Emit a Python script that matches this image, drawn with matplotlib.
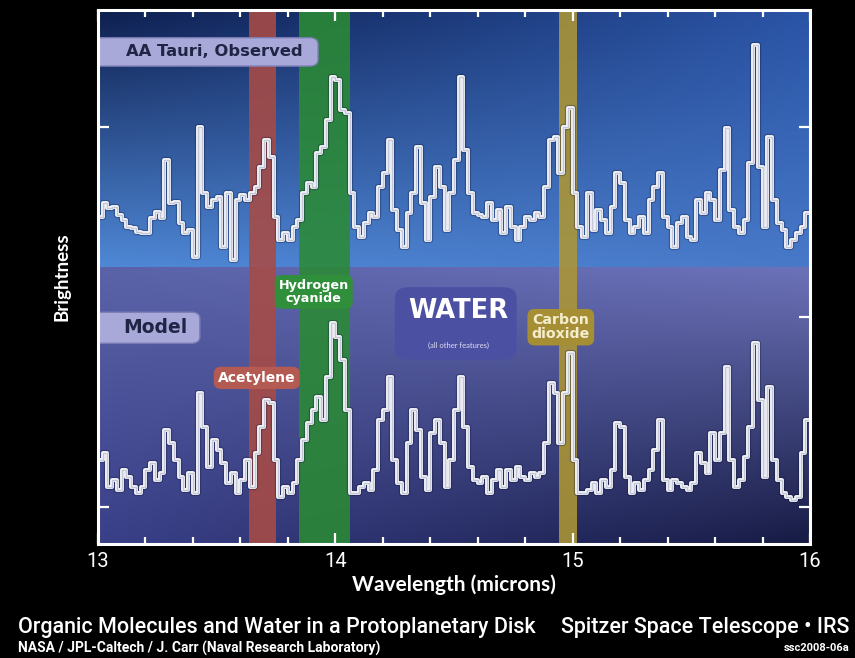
import numpy as np
import matplotlib
matplotlib.use('Agg')
import matplotlib.pyplot as plt
from matplotlib.patches import FancyBboxPatch
from matplotlib.ticker import MultipleLocator
from matplotlib.colors import to_rgb

# spectra, 150 bins of 0.02 micron from 13.00 to 16.00 (brightness, arbitrary units)
WL_START, WL_STEP = 13.01, 0.02
observed = [290, 304, 299, 300, 292, 287, 280, 279, 275, 274,
            274, 289, 295, 289, 347, 304, 305, 284, 274, 277,
            250, 380, 314, 300, 307, 310, 260, 314, 247, 307,
            312, 307, 314, 320, 340, 367, 350, 290, 267, 274,
            267, 280, 287, 314, 324, 320, 354, 360, 387, 430,
            427, 397, 394, 314, 280, 270, 284, 294, 290, 320,
            334, 367, 297, 277, 260, 294, 314, 360, 304, 267,
            310, 340, 320, 277, 314, 347, 430, 357, 314, 294,
            292, 290, 304, 287, 297, 274, 300, 280, 267, 280,
            290, 287, 294, 290, 320, 367, 370, 334, 380, 399,
            314, 280, 270, 314, 277, 297, 287, 274, 300, 334,
            324, 287, 274, 280, 290, 274, 307, 320, 334, 290,
            280, 260, 284, 290, 270, 267, 307, 294, 314, 307,
            287, 337, 379, 297, 280, 274, 287, 344, 462, 340,
            280, 370, 307, 284, 277, 260, 267, 274, 280, 294]
model = [47, 54, 20, 27, 17, 37, 30, 20, 14, 20,
         37, 44, 27, 34, 77, 64, 47, 30, 17, 34,
         14, 114, 80, 40, 67, 57, 44, 24, 34, 14,
         27, 47, 20, 54, 80, 107, 104, 47, 10, 20,
         14, 24, 47, 67, 84, 97, 110, 87, 130, 184,
         170, 147, 97, 14, 14, 20, 24, 17, 37, 87,
         97, 130, 47, 24, 14, 64, 97, 77, 30, 17,
         74, 87, 64, 20, 47, 97, 130, 80, 40, 27,
         24, 30, 14, 27, 37, 20, 37, 27, 40, 30,
         27, 34, 30, 34, 64, 124, 114, 64, 114, 154,
         47, 14, 14, 17, 24, 14, 27, 20, 37, 84,
         80, 30, 14, 24, 17, 27, 37, 57, 87, 27,
         17, 27, 24, 20, 17, 24, 54, 44, 34, 74,
         47, 74, 140, 47, 20, 27, 50, 80, 164, 107,
         30, 120, 47, 27, 14, 10, 7, 10, 54, 87]

# molecular features (wavelength ranges in microns)
bands = {'Acetylene': (13.638, 13.748, '#a84b45'),
         'Hydrogen\ncyanide': (13.845, 14.06, '#2b8a35'),
         'Carbon\ndioxide': (14.943, 15.018, '#ad9634')}

wl = WL_START + WL_STEP * np.arange(len(observed))

YMIN, YMAX, YSPLIT = -37, 497, 240
BOLD = 'DejaVu Sans'


def gradient(tl, tr, bl, br, n=200):
    tl, tr, bl, br = [np.array(to_rgb(c)) for c in (tl, tr, bl, br)]
    u = np.linspace(0, 1, n)[None, :, None]
    v = np.linspace(0, 1, n)[:, None, None]
    top = (1 - u) * tl + u * tr
    bot = (1 - u) * bl + u * br
    return (1 - v) * top + v * bot


fig = plt.figure(figsize=(8.55, 6.58), dpi=100, facecolor='black')
ax = fig.add_axes([98 / 855, 114 / 658, 712 / 855, 534 / 658])
ax.set_facecolor('black')

ax.imshow(gradient('#0e1f4f', '#2a54a6', '#4f88d6', '#4879c8'),
          extent=(13, 16, YSPLIT, YMAX), aspect='auto', zorder=0,
          interpolation='bilinear')
ax.imshow(gradient('#5a62a8', '#6c72b8', '#3a4088', '#161b44'),
          extent=(13, 16, YMIN, YSPLIT), aspect='auto', zorder=0,
          interpolation='bilinear')

for name, (x0, x1, col) in bands.items():
    ax.axvspan(x0, x1, color=col, alpha=0.88, zorder=1, lw=0)

for spec in (observed, model):
    ax.plot(wl, spec, drawstyle='steps-mid', color='#0a0f30', lw=4.5,
            alpha=0.3, zorder=2)
    ax.plot(wl, spec, drawstyle='steps-mid', color='#f4f5fa', lw=2.8,
            zorder=3)
    ax.plot(wl, spec, drawstyle='steps-mid', color='#c3c7d6', lw=1.0,
            zorder=4)

ax.set_xlim(13, 16)
ax.set_ylim(YMIN, YMAX)

ax.xaxis.set_major_locator(MultipleLocator(1))
ax.xaxis.set_minor_locator(MultipleLocator(0.2))
ax.set_yticks([0, 190, 380])
ax.tick_params(which='both', direction='in', top=True, right=True,
               color='white', width=1.6)
ax.tick_params(which='major', length=8)
ax.tick_params(which='minor', length=5)
ax.tick_params(axis='y', labelleft=False)
ax.tick_params(axis='x', labelsize=14.5, labelcolor='white', pad=6)
for lab in ax.get_xticklabels():
    lab.set_family('Roboto')
for s in ax.spines.values():
    s.set_color('white')
    s.set_linewidth(2.2)
    s.set_zorder(10)

ax.set_xlabel('Wavelength (microns)', color='white', fontsize=15,
              fontweight='bold', family='Lato', labelpad=2)
ax.set_ylabel('Brightness', color='white', fontsize=13.5, fontweight='bold',
              family='Lato', labelpad=20)

# panel labels (boxes flush with the left frame)
for (y0, y1, x1), txt, tx, fs in [((0.895, 0.948, 0.309), 'AA Tauri, Observed', 0.163, 11.8),
                                   ((0.376, 0.434, 0.143), 'Model', 0.080, 13.5)]:
    ax.add_patch(FancyBboxPatch((-0.05, y0), x1 + 0.05, y1 - y0,
                                boxstyle='round,pad=0,rounding_size=0.012',
                                transform=ax.transAxes, fc='#a9a9d9',
                                ec='#7c7fb6', lw=1, zorder=5))
    ax.text(tx, (y0 + y1) / 2, txt, transform=ax.transAxes, ha='center',
            va='center', fontsize=fs, fontweight='bold', family=BOLD,
            color='#1f2545', zorder=6)

# feature labels
feat = [('Acetylene', 0.223, 0.311, '#b35a52', 'white', 10),
        ('Hydrogen\ncyanide', 0.303, 0.472, '#2f8f3a', 'white', 9.2),
        ('Carbon\ndioxide', 0.650, 0.406, '#a58e34', '#f4edcf', 10.2)]
for txt, fx, fy, fc, tc, fs in feat:
    ax.text(fx, fy, txt, transform=ax.transAxes, ha='center', va='center',
            fontsize=fs, fontweight='bold', family=BOLD, color=tc,
            linespacing=1.0, zorder=6,
            bbox=dict(boxstyle='round,pad=0.3,rounding_size=0.5', fc=fc,
                      ec='none'))

ax.add_patch(FancyBboxPatch((0.421, 0.349), 0.163, 0.128,
                            boxstyle='round,pad=0.004,rounding_size=0.02',
                            transform=ax.transAxes, fc='#4c50a2', ec='none',
                            zorder=5))
ax.text(0.506, 0.437, 'WATER', transform=ax.transAxes, ha='center',
        va='center', fontsize=18.5, fontweight='bold', family=BOLD,
        color='white', zorder=6)
ax.text(0.506, 0.371, '(all other features)', transform=ax.transAxes,
        ha='center', va='center', fontsize=5.5, family='Lato',
        color='#dcdcf0', zorder=6)

# credits
fig.text(18 / 855, 1 - 627 / 658,
         'Organic Molecules and Water in a Protoplanetary Disk',
         color='white', fontsize=15.5, family='Roboto', fontweight='medium',
         ha='left', va='center')
fig.text(849 / 855, 1 - 627 / 658, 'Spitzer Space Telescope \u2022 IRS',
         color='white', fontsize=15.5, family='Roboto', fontweight='medium',
         ha='right', va='center')
fig.text(18 / 855, 1 - 648 / 658,
         'NASA / JPL-Caltech / J. Carr (Naval Research Laboratory)',
         color='white', fontsize=10, fontweight='bold', family='Roboto',
         ha='left', va='center')
fig.text(849 / 855, 1 - 648 / 658, 'ssc2008-06a', color='white',
         fontsize=8, fontweight='bold', family='Roboto', ha='right',
         va='center')

plt.savefig('out.png', dpi=100, facecolor='black')
